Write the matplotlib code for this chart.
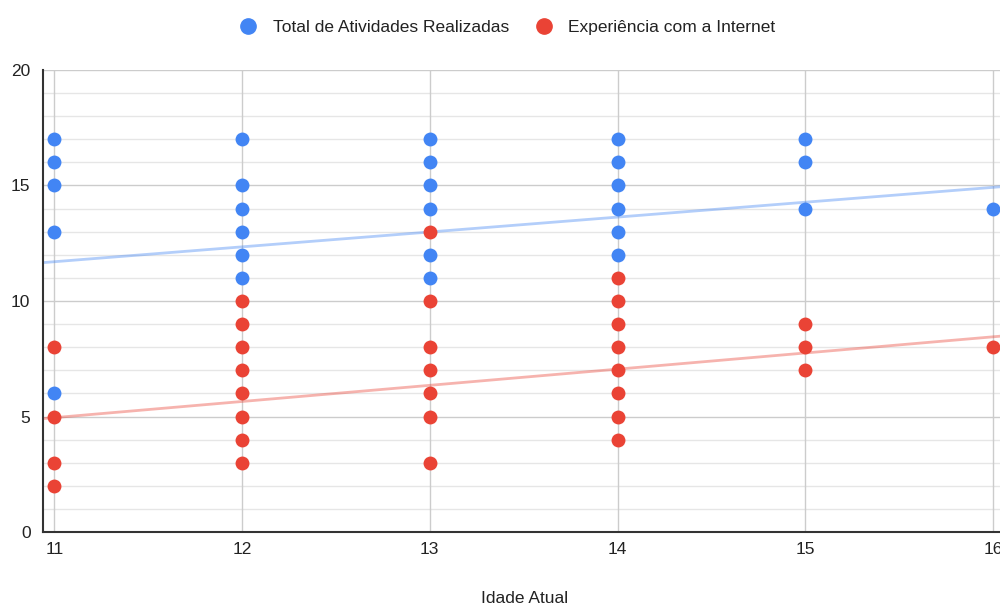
import matplotlib
matplotlib.use("Agg")
import matplotlib.pyplot as plt
from matplotlib.lines import Line2D
import numpy as np

plt.rcParams['font.family'] = ['Liberation Sans', 'DejaVu Sans']

# Respondent age (x) and the two scores measured for each group
ages_total = [11, 11, 11, 11, 11,
              12, 12, 12, 12, 12, 12,
              13, 13, 13, 13, 13, 13,
              14, 14, 14, 14, 14, 14,
              15, 15, 15,
              16]
total_atividades = [17, 16, 15, 13, 6,
                    17, 15, 14, 13, 12, 11,
                    17, 16, 15, 14, 12, 11,
                    17, 16, 15, 14, 13, 12,
                    17, 16, 14,
                    14]

ages_exp = [11, 11, 11, 11,
            12, 12, 12, 12, 12, 12, 12, 12,
            13, 13, 13, 13, 13, 13, 13,
            14, 14, 14, 14, 14, 14, 14, 14,
            15, 15, 15,
            16]
experiencia = [8, 5, 3, 2,
               10, 9, 8, 7, 6, 5, 4, 3,
               13, 10, 8, 7, 6, 5, 3,
               11, 10, 9, 8, 7, 6, 5, 4,
               9, 8, 7,
               8]

# Linear trend lines (slope, intercept)
trend_total = (0.644, 4.616)
trend_exp = (0.70, -2.75)

series_labels = ["Total de Atividades Realizadas", "Experiência com a Internet"]
x_ticks = [11, 12, 13, 14, 15, 16]
y_ticks = [0, 5, 10, 15, 20]

blue = "#4285F4"
red = "#EA4335"
text_color = "#222222"

fig = plt.figure(figsize=(10, 6.06), dpi=100)
ax = fig.add_axes([0.043, 0.1221, 0.964, 0.7624])

xlim = (10.94, 16.074)
ax.set_xlim(*xlim)
ax.set_ylim(0, 20)

# grid: light line every unit, darker every 5
for y in range(0, 21):
    if y % 5 == 0:
        ax.axhline(y, color="#cccccc", lw=1.0, zorder=0)
    else:
        ax.axhline(y, color="#e6e6e6", lw=1.0, zorder=0)
for x in x_ticks:
    ax.axvline(x, color="#cccccc", lw=1.0, zorder=0)

xx = np.array(xlim)
ax.plot(xx, trend_total[0] * xx + trend_total[1], color=blue, alpha=0.4, lw=2, zorder=2)
ax.plot(xx, trend_exp[0] * xx + trend_exp[1], color=red, alpha=0.4, lw=2, zorder=2)

ax.scatter(ages_total, total_atividades, s=100, color=blue, zorder=3, linewidths=0)
ax.scatter(ages_exp, experiencia, s=100, color=red, zorder=3, linewidths=0)

for side in ["top", "right"]:
    ax.spines[side].set_visible(False)
for side in ["left", "bottom"]:
    ax.spines[side].set_color("#333333")
    ax.spines[side].set_linewidth(1.5)

ax.set_xticks(x_ticks)
ax.set_yticks(y_ticks)
ax.tick_params(axis="both", length=0, labelsize=12.5, colors=text_color)
ax.tick_params(axis="x", pad=7)
ax.tick_params(axis="y", pad=9)

fig.text(0.525, 0.013, "Idade Atual", ha="center", va="center",
         fontsize=12.5, color=text_color)

handles = [Line2D([], [], marker="o", ls="", color=blue, markersize=11),
           Line2D([], [], marker="o", ls="", color=red, markersize=11)]
fig.legend(handles, series_labels, loc="center", bbox_to_anchor=(0.503, 0.955),
           ncol=2, frameon=False, fontsize=12.5, handletextpad=0.4, columnspacing=1.0,
           labelcolor=text_color)

fig.savefig("out.png", dpi=100)
